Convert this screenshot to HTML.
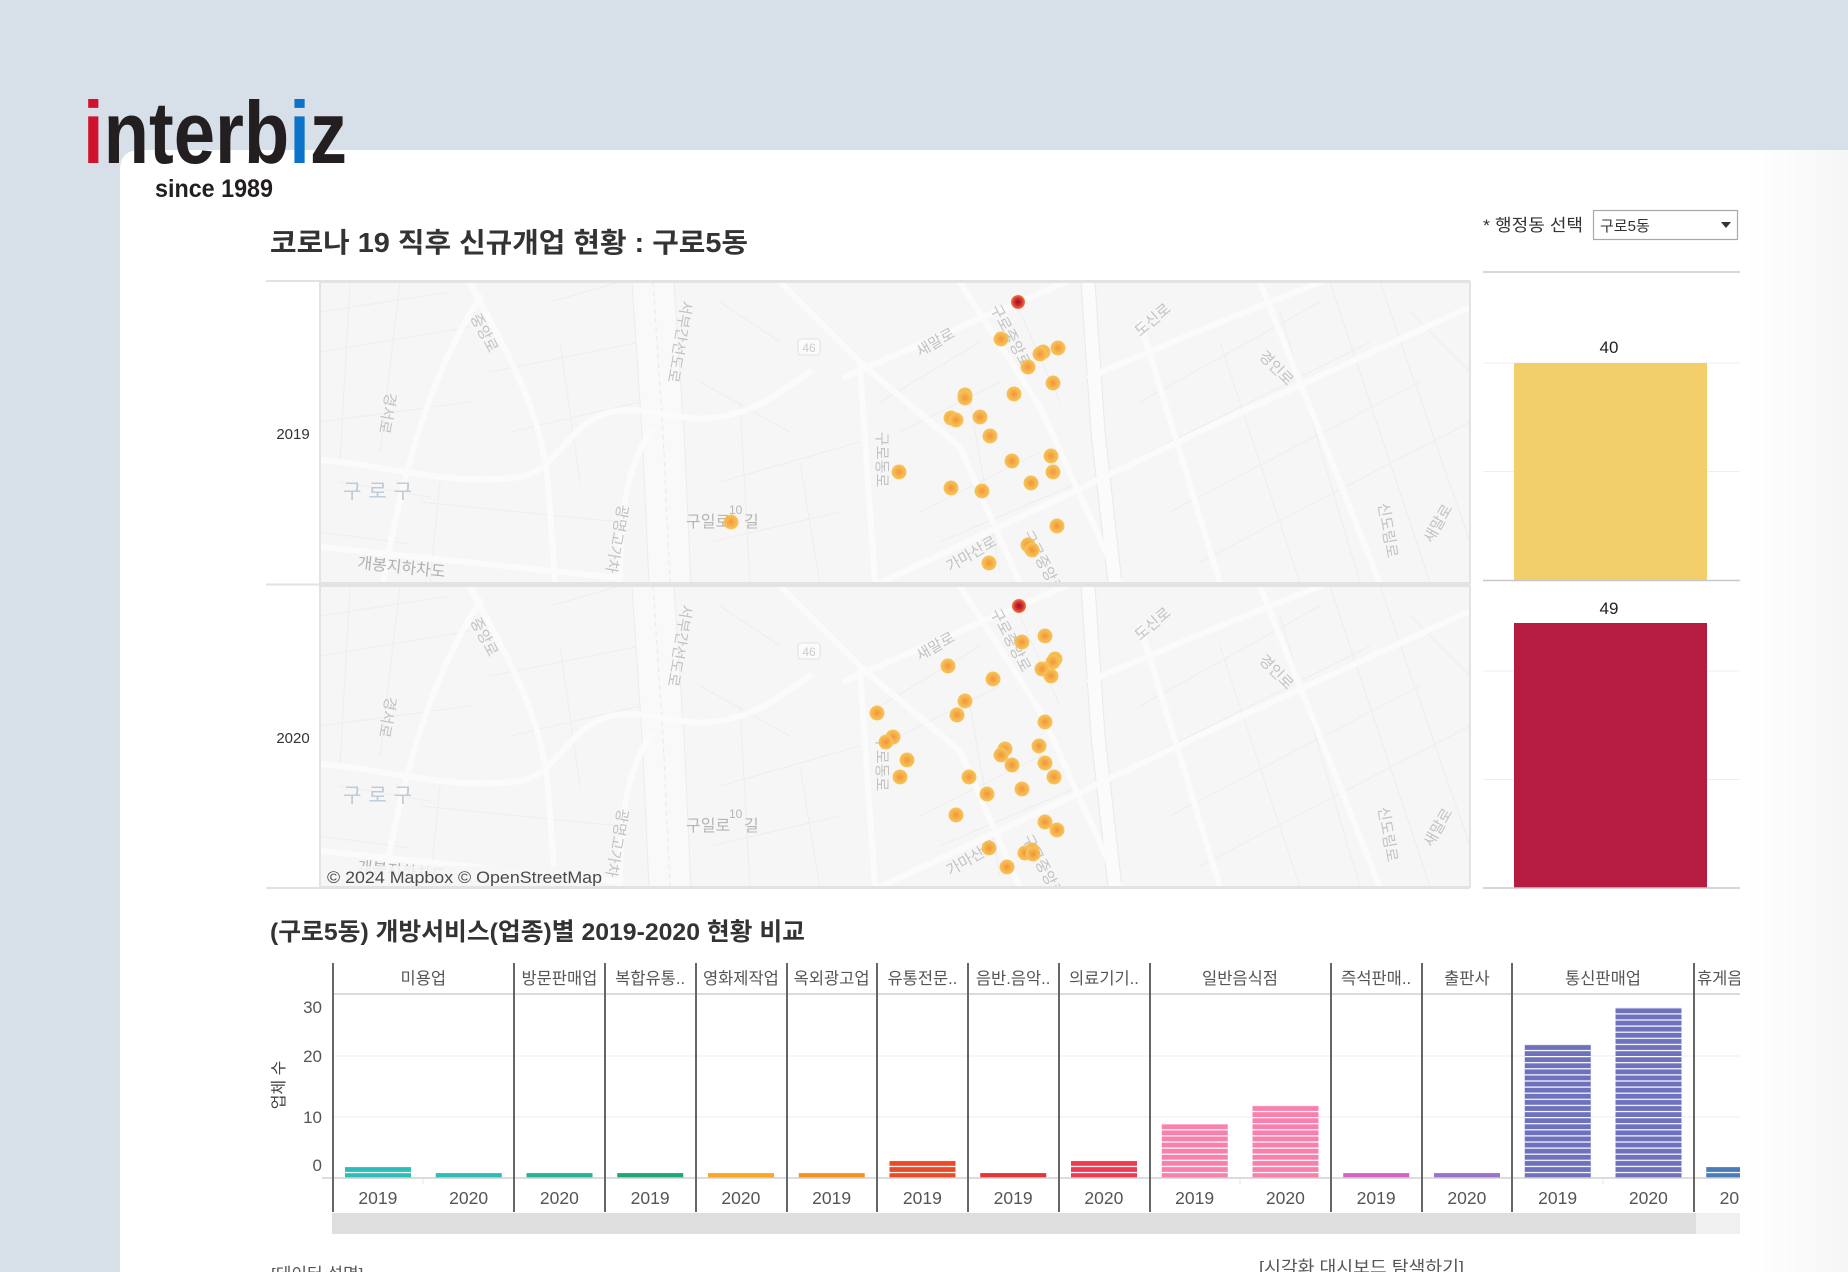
<!DOCTYPE html>
<html><head><meta charset="utf-8">
<style>
html,body{margin:0;padding:0;width:1848px;height:1272px;overflow:hidden;background:#d7dfe8;}
svg{position:absolute;left:0;top:0;font-family:"Liberation Sans","Noto Sans CJK KR",sans-serif;}
.ml{font-size:15px;fill:#c2c2c2;}
.th{stroke:#eeeeee;stroke-width:1.1;fill:none;}
.mj{stroke:#fbfbfb;stroke-width:6;fill:none;stroke-linecap:round;}
.hd{font-size:16.5px;fill:#555;text-anchor:middle;}
.yr{font-size:17.5px;fill:#555;text-anchor:middle;}
.yt{font-size:17px;fill:#555;text-anchor:end;}
</style></head>
<body>
<svg width="1848" height="1272" viewBox="0 0 1848 1272">
<defs>
<radialGradient id="gd"><stop offset="0" stop-color="#f48b2b"/><stop offset="0.5" stop-color="#f5aa3b"/><stop offset="1" stop-color="#f7c24f"/></radialGradient>
<radialGradient id="gr"><stop offset="0" stop-color="#9a0c2b"/><stop offset="0.55" stop-color="#d3302f"/><stop offset="1" stop-color="#ee7b3b"/></radialGradient>
<clipPath id="mc"><rect x="0" y="0" width="1150" height="301"/></clipPath>
<clipPath id="cc"><rect x="250" y="950" width="1490" height="300"/></clipPath>
<pattern id="st" x="0" y="1178" width="10" height="6.1" patternUnits="userSpaceOnUse"><rect x="0" y="0" width="10" height="1.2" fill="#fff"/></pattern>
<linearGradient id="rg" x1="0" x2="1" y1="0" y2="0"><stop offset="0" stop-color="#fff"/><stop offset="1" stop-color="#f6f6f6"/></linearGradient>
</defs>

<!-- background + panel -->
<rect x="0" y="0" width="1848" height="1272" fill="#d7dfe8"/>
<path d="M120,170 Q120,150 140,150 L1848,150 L1848,1272 L120,1272 Z" fill="#ffffff"/>
<rect x="1745" y="150" width="103" height="1122" fill="url(#rg)"/>

<!-- logo -->
<text x="83" y="163" font-size="88" font-weight="bold" textLength="264" lengthAdjust="spacingAndGlyphs" fill="#231f20"><tspan fill="#d0122d">i</tspan>nterb<tspan fill="#0b73c9">i</tspan>z</text>
<text x="155" y="197" font-size="25" font-weight="bold" textLength="118" lengthAdjust="spacingAndGlyphs" fill="#231f20">since 1989</text>

<!-- title -->
<text x="270" y="252" font-size="27.5" font-weight="bold" fill="#333" textLength="478" lengthAdjust="spacingAndGlyphs">코로나 19 직후 신규개업 현황 : 구로5동</text>

<!-- dropdown -->
<text x="1483" y="231" font-size="17" fill="#333" textLength="100" lengthAdjust="spacingAndGlyphs">* 행정동 선택</text>
<rect x="1593.5" y="210.5" width="144" height="29" fill="#fff" stroke="#a9a9a9" stroke-width="1.2"/>
<text x="1600" y="231" font-size="15" fill="#333">구로5동</text>
<polygon points="1721,222 1731,222 1726,228" fill="#333"/>
<line x1="1483" y1="272" x2="1740" y2="272" stroke="#cccccc" stroke-width="1.5"/>

<!-- map section lines -->
<line x1="266" y1="281" x2="1470" y2="281" stroke="#e2e2e2" stroke-width="2"/>
<line x1="266" y1="584.5" x2="1470" y2="584.5" stroke="#e2e2e2" stroke-width="2"/>
<line x1="266" y1="888" x2="1470" y2="888" stroke="#e2e2e2" stroke-width="2"/>
<text x="293" y="439" font-size="15" fill="#333" text-anchor="middle">2019</text>
<text x="293" y="743" font-size="15" fill="#333" text-anchor="middle">2020</text>

<!-- MAP 2019 -->
<g transform="translate(320,282)">
<g clip-path="url(#mc)">
<rect x="0" y="0" width="1150" height="301" fill="#f6f6f6"/>
<path class="th" d="M0,30 L130,10 M0,70 L150,45 M30,0 L20,180 M80,0 L60,170 M0,140 L150,120 M170,90 L320,60 M190,150 L320,120 M230,20 L300,0 M240,60 L260,200 M100,220 L300,240 M120,200 L110,301 M400,20 L460,60 M380,100 L470,150 M400,200 L540,160 M390,260 L520,230 M420,120 L430,301 M480,180 L500,301 M560,120 L660,60 M580,150 L680,100 M600,230 L720,170 M620,260 L760,200 M650,120 L680,290 M700,30 L740,120 M820,120 L1000,20 M830,170 L1050,60 M850,230 L1100,100 M880,280 L1150,140 M900,60 L980,301 M960,30 L1040,301 M1010,0 L1110,301 M1060,0 L1150,260 M1090,30 L1150,90 M0,250 L90,262 M20,200 L110,215"/>
<path d="M333,0 L343,150 L350,301" stroke="#f9f9f9" stroke-width="42" fill="none"/>
<path d="M312,0 L322,150 L329,301 M354,0 L364,150 L371,301" stroke="#ececec" stroke-width="1" fill="none"/>
<path d="M333,0 L343,150 L350,301" stroke="#e9e9e9" stroke-width="1" stroke-dasharray="5,4" fill="none"/>
<path d="M768,0 L778,150 L795,301" stroke="#fbfbfb" stroke-width="14" fill="none"/>
<path d="M761,0 L771,150 L788,301 M775,0 L785,150 L802,301" stroke="#e9e9e9" stroke-width="1" fill="none"/>
<path class="mj" d="M0,178 C60,182 130,205 200,195 C235,190 250,140 290,130 C330,122 360,142 400,135 C440,128 460,110 490,90 M460,0 L545,85 L640,165 L700,301 M640,0 L720,125 L800,301 M525,95 L640,45 L770,-10 M560,301 L700,235 L900,140 L1150,25 M770,95 L900,40 L1000,0 M540,85 L548,200 L555,301 M160,15 C120,80 90,150 63,301 M150,0 C180,60 220,120 228,200 L235,301 M820,40 L900,301 M940,0 L1060,301 M300,301 C300,220 310,180 330,150 M0,265 L300,296"/>
<text class="ml" x="23" y="216" style="font-size:20px;fill:#bcc9d6;letter-spacing:7px">구로구</text>
<text class="ml" transform="translate(37,286) rotate(6)" style="font-size:16px;fill:#b0b0b0">개봉지하차도</text>
<text class="ml" x="366" y="245" style="font-size:16px;fill:#b5b5b5">구일로</text>
<text class="ml" x="409" y="232" style="font-size:12px;fill:#b5b5b5">10</text>
<text class="ml" x="424" y="245" style="font-size:16px;fill:#b5b5b5">길</text>
<text class="ml" transform="translate(66,110) rotate(100)">경서로</text>
<text class="ml" transform="translate(150,35) rotate(62)">중앙로</text>
<text class="ml" transform="translate(362,18) rotate(100)">서부간선도로</text>
<text class="ml" transform="translate(298,222) rotate(100)">광명고가차</text>
<rect x="478" y="57" width="22" height="16" rx="3" fill="#fbfbfb" stroke="#e0e0e0"/>
<text x="489" y="70" font-size="12" fill="#cccccc" text-anchor="middle">46</text>
<text class="ml" transform="translate(600,75) rotate(-30)">새말로</text>
<text class="ml" transform="translate(670,26) rotate(62)">구로중앙로</text>
<text class="ml" transform="translate(820,55) rotate(-40)">도신로</text>
<text class="ml" transform="translate(557,150) rotate(90)">구로동로</text>
<text class="ml" transform="translate(630,290) rotate(-30)">가마산로</text>
<text class="ml" transform="translate(702,252) rotate(62)">구로중앙로</text>
<text class="ml" transform="translate(938,75) rotate(45)">경인로</text>
<text class="ml" transform="translate(1058,222) rotate(80)">신도림로</text>
<text class="ml" transform="translate(1112,262) rotate(-60)">새말로</text>
<g fill="url(#gd)" opacity="0.92">
<circle cx="681" cy="57" r="7.5"/><circle cx="723" cy="70" r="7.5"/><circle cx="720" cy="72" r="7.5"/><circle cx="738" cy="66" r="7.5"/><circle cx="708" cy="85" r="7.5"/><circle cx="733" cy="101" r="7.5"/><circle cx="645" cy="113" r="7.5"/><circle cx="645" cy="116" r="7.5"/><circle cx="694" cy="112" r="7.5"/><circle cx="631" cy="136" r="7.5"/><circle cx="636" cy="138" r="7.5"/><circle cx="660" cy="135" r="7.5"/><circle cx="670" cy="154" r="7.5"/><circle cx="692" cy="179" r="7.5"/><circle cx="731" cy="174" r="7.5"/><circle cx="733" cy="190" r="7.5"/><circle cx="579" cy="190" r="7.5"/><circle cx="631" cy="206" r="7.5"/><circle cx="662" cy="209" r="7.5"/><circle cx="711" cy="201" r="7.5"/><circle cx="737" cy="244" r="7.5"/><circle cx="708" cy="263" r="7.5"/><circle cx="712" cy="268" r="7.5"/><circle cx="669" cy="281" r="7.5"/><circle cx="411" cy="240" r="7.5"/>
</g>
<circle cx="698" cy="20" r="7" fill="url(#gr)"/>
</g>
<rect x="0" y="0" width="1150" height="301" fill="none" stroke="#e3e3e3" stroke-width="2"/>
</g>

<!-- MAP 2020 -->
<g transform="translate(320,586)">
<g clip-path="url(#mc)">
<rect x="0" y="0" width="1150" height="301" fill="#f6f6f6"/>
<path class="th" d="M0,30 L130,10 M0,70 L150,45 M30,0 L20,180 M80,0 L60,170 M0,140 L150,120 M170,90 L320,60 M190,150 L320,120 M230,20 L300,0 M240,60 L260,200 M100,220 L300,240 M120,200 L110,301 M400,20 L460,60 M380,100 L470,150 M400,200 L540,160 M390,260 L520,230 M420,120 L430,301 M480,180 L500,301 M560,120 L660,60 M580,150 L680,100 M600,230 L720,170 M620,260 L760,200 M650,120 L680,290 M700,30 L740,120 M820,120 L1000,20 M830,170 L1050,60 M850,230 L1100,100 M880,280 L1150,140 M900,60 L980,301 M960,30 L1040,301 M1010,0 L1110,301 M1060,0 L1150,260 M1090,30 L1150,90 M0,250 L90,262 M20,200 L110,215"/>
<path d="M333,0 L343,150 L350,301" stroke="#f9f9f9" stroke-width="42" fill="none"/>
<path d="M312,0 L322,150 L329,301 M354,0 L364,150 L371,301" stroke="#ececec" stroke-width="1" fill="none"/>
<path d="M333,0 L343,150 L350,301" stroke="#e9e9e9" stroke-width="1" stroke-dasharray="5,4" fill="none"/>
<path d="M768,0 L778,150 L795,301" stroke="#fbfbfb" stroke-width="14" fill="none"/>
<path d="M761,0 L771,150 L788,301 M775,0 L785,150 L802,301" stroke="#e9e9e9" stroke-width="1" fill="none"/>
<path class="mj" d="M0,178 C60,182 130,205 200,195 C235,190 250,140 290,130 C330,122 360,142 400,135 C440,128 460,110 490,90 M460,0 L545,85 L640,165 L700,301 M640,0 L720,125 L800,301 M525,95 L640,45 L770,-10 M560,301 L700,235 L900,140 L1150,25 M770,95 L900,40 L1000,0 M540,85 L548,200 L555,301 M160,15 C120,80 90,150 63,301 M150,0 C180,60 220,120 228,200 L235,301 M820,40 L900,301 M940,0 L1060,301 M300,301 C300,220 310,180 330,150 M0,265 L300,296"/>
<text class="ml" x="23" y="216" style="font-size:20px;fill:#bcc9d6;letter-spacing:7px">구로구</text>
<text class="ml" transform="translate(37,286) rotate(6)" style="font-size:16px;fill:#b0b0b0">개봉지하차도</text>
<text class="ml" x="366" y="245" style="font-size:16px;fill:#b5b5b5">구일로</text>
<text class="ml" x="409" y="232" style="font-size:12px;fill:#b5b5b5">10</text>
<text class="ml" x="424" y="245" style="font-size:16px;fill:#b5b5b5">길</text>
<text class="ml" transform="translate(66,110) rotate(100)">경서로</text>
<text class="ml" transform="translate(150,35) rotate(62)">중앙로</text>
<text class="ml" transform="translate(362,18) rotate(100)">서부간선도로</text>
<text class="ml" transform="translate(298,222) rotate(100)">광명고가차</text>
<rect x="478" y="57" width="22" height="16" rx="3" fill="#fbfbfb" stroke="#e0e0e0"/>
<text x="489" y="70" font-size="12" fill="#cccccc" text-anchor="middle">46</text>
<text class="ml" transform="translate(600,75) rotate(-30)">새말로</text>
<text class="ml" transform="translate(670,26) rotate(62)">구로중앙로</text>
<text class="ml" transform="translate(820,55) rotate(-40)">도신로</text>
<text class="ml" transform="translate(557,150) rotate(90)">구로동로</text>
<text class="ml" transform="translate(630,290) rotate(-30)">가마산로</text>
<text class="ml" transform="translate(702,252) rotate(62)">구로중앙로</text>
<text class="ml" transform="translate(938,75) rotate(45)">경인로</text>
<text class="ml" transform="translate(1058,222) rotate(80)">신도림로</text>
<text class="ml" transform="translate(1112,262) rotate(-60)">새말로</text>
<rect x="2" y="280" width="280" height="21" fill="#f6f6f6" opacity="0.85"/>
<text x="7" y="297" font-size="17" fill="#4a4a4a" textLength="275" lengthAdjust="spacingAndGlyphs">© 2024 Mapbox  © OpenStreetMap</text>
<g fill="url(#gd)" opacity="0.92">
<circle cx="702" cy="56" r="7.5"/><circle cx="725" cy="50" r="7.5"/><circle cx="735" cy="73" r="7.5"/><circle cx="733" cy="76" r="7.5"/><circle cx="722" cy="83" r="7.5"/><circle cx="731" cy="90" r="7.5"/><circle cx="628" cy="80" r="7.5"/><circle cx="673" cy="93" r="7.5"/><circle cx="645" cy="115" r="7.5"/><circle cx="637" cy="129" r="7.5"/><circle cx="557" cy="127" r="7.5"/><circle cx="573" cy="151" r="7.5"/><circle cx="566" cy="156" r="7.5"/><circle cx="587" cy="174" r="7.5"/><circle cx="580" cy="191" r="7.5"/><circle cx="725" cy="136" r="7.5"/><circle cx="685" cy="163" r="7.5"/><circle cx="681" cy="169" r="7.5"/><circle cx="692" cy="179" r="7.5"/><circle cx="719" cy="160" r="7.5"/><circle cx="725" cy="177" r="7.5"/><circle cx="734" cy="191" r="7.5"/><circle cx="649" cy="191" r="7.5"/><circle cx="667" cy="208" r="7.5"/><circle cx="702" cy="203" r="7.5"/><circle cx="636" cy="229" r="7.5"/><circle cx="725" cy="236" r="7.5"/><circle cx="737" cy="244" r="7.5"/><circle cx="669" cy="262" r="7.5"/><circle cx="712" cy="264" r="7.5"/><circle cx="705" cy="267" r="7.5"/><circle cx="713" cy="268" r="7.5"/><circle cx="687" cy="281" r="7.5"/>
</g>
<circle cx="699" cy="20" r="7" fill="url(#gr)"/>
</g>
<rect x="0" y="0" width="1150" height="301" fill="none" stroke="#e3e3e3" stroke-width="2"/>
</g>

<!-- right bar panel -->
<line x1="1483" y1="363" x2="1740" y2="363" stroke="#efefef" stroke-width="1"/>
<line x1="1483" y1="471.5" x2="1740" y2="471.5" stroke="#efefef" stroke-width="1"/>
<line x1="1483" y1="671" x2="1740" y2="671" stroke="#efefef" stroke-width="1"/>
<line x1="1483" y1="779.5" x2="1740" y2="779.5" stroke="#efefef" stroke-width="1"/>
<rect x="1514" y="363" width="193" height="217" fill="#f2cf6a"/>
<rect x="1514" y="623" width="193" height="265" fill="#b51c3f"/>
<line x1="1483" y1="580.5" x2="1740" y2="580.5" stroke="#c8c8c8" stroke-width="1.5"/>
<line x1="1483" y1="888" x2="1740" y2="888" stroke="#c8c8c8" stroke-width="1.5"/>
<text x="1609" y="353" font-size="17" fill="#222" text-anchor="middle">40</text>
<text x="1609" y="614" font-size="17" fill="#222" text-anchor="middle">49</text>

<!-- second title -->
<text x="270" y="940" font-size="24.5" font-weight="bold" fill="#333" textLength="535" lengthAdjust="spacingAndGlyphs">(구로5동) 개방서비스(업종)별 2019-2020 현황 비교</text>

<!-- bottom chart -->
<text transform="translate(284,1085) rotate(-90)" font-size="16" fill="#444" text-anchor="middle">업체 수</text>
<text class="yt" x="322" y="1013">30</text>
<text class="yt" x="322" y="1062">20</text>
<text class="yt" x="322" y="1123">10</text>
<text class="yt" x="322" y="1171">0</text>

<g clip-path="url(#cc)">
<line x1="333" y1="1056" x2="1740" y2="1056" stroke="#eeeeee" stroke-width="1"/>
<line x1="333" y1="1117" x2="1740" y2="1117" stroke="#eeeeee" stroke-width="1"/>
<line x1="333" y1="994" x2="1740" y2="994" stroke="#cfcfcf" stroke-width="1.5"/>

<!-- bars -->
<rect x="345" y="1167" width="66" height="11" fill="#2dbdb6"/>
<rect x="435.75" y="1173.1" width="66" height="4.9" fill="#2dbdb6"/>
<rect x="526.5" y="1173.1" width="66" height="4.9" fill="#26b39b"/>
<rect x="617.25" y="1173.1" width="66" height="4.9" fill="#1ea57c"/>
<rect x="708" y="1173.1" width="66" height="4.9" fill="#f8a826"/>
<rect x="798.75" y="1173.1" width="66" height="4.9" fill="#f7921e"/>
<rect x="889.5" y="1160.9" width="66" height="17.1" fill="#e84b28"/>
<rect x="980.25" y="1173.1" width="66" height="4.9" fill="#e33535"/>
<rect x="1071" y="1160.9" width="66" height="17.1" fill="#ec3b54"/>
<rect x="1161.75" y="1124.3" width="66" height="53.7" fill="#f880ad"/>
<rect x="1252.5" y="1105.9" width="66" height="72.1" fill="#f880ad"/>
<rect x="1343.25" y="1173.1" width="66" height="4.9" fill="#d164c0"/>
<rect x="1434" y="1173.1" width="66" height="4.9" fill="#9b72c9"/>
<rect x="1524.75" y="1044" width="66" height="134" fill="#6e72be"/>
<rect x="1615.5" y="1007.4" width="66" height="170.6" fill="#6e72be"/>
<rect x="1706.25" y="1167" width="66" height="11" fill="#4b7bba"/>
<!-- stripe overlays -->
<rect x="345" y="1160" width="66" height="18" fill="url(#st)"/>
<rect x="889.5" y="1155" width="66" height="23" fill="url(#st)"/>
<rect x="1071" y="1155" width="66" height="23" fill="url(#st)"/>
<rect x="1161.75" y="1124.3" width="66" height="53.7" fill="url(#st)"/>
<rect x="1252.5" y="1105.9" width="66" height="72.1" fill="url(#st)"/>
<rect x="1524.75" y="1044" width="66" height="134" fill="url(#st)"/>
<rect x="1615.5" y="1007.4" width="66" height="170.6" fill="url(#st)"/>
<rect x="1706.25" y="1160" width="66" height="18" fill="url(#st)"/>

<line x1="322" y1="1178" x2="1740" y2="1178" stroke="#d0d0d0" stroke-width="1.5"/>
<line x1="423" y1="1178" x2="423" y2="1184" stroke="#e6e6e6" stroke-width="1"/>
<line x1="1240" y1="1178" x2="1240" y2="1184" stroke="#e6e6e6" stroke-width="1"/>
<line x1="1603" y1="1178" x2="1603" y2="1184" stroke="#e6e6e6" stroke-width="1"/>

<!-- dividers -->
<g stroke="#666" stroke-width="2">
<line x1="333" y1="963" x2="333" y2="1212"/>
<line x1="514" y1="963" x2="514" y2="1212"/>
<line x1="605" y1="963" x2="605" y2="1212"/>
<line x1="696" y1="963" x2="696" y2="1212"/>
<line x1="787" y1="963" x2="787" y2="1212"/>
<line x1="877" y1="963" x2="877" y2="1212"/>
<line x1="968" y1="963" x2="968" y2="1212"/>
<line x1="1059" y1="963" x2="1059" y2="1212"/>
<line x1="1150" y1="963" x2="1150" y2="1212"/>
<line x1="1331" y1="963" x2="1331" y2="1212"/>
<line x1="1422" y1="963" x2="1422" y2="1212"/>
<line x1="1512" y1="963" x2="1512" y2="1212"/>
<line x1="1694" y1="963" x2="1694" y2="1212"/>
</g>

<!-- headers -->
<text class="hd" x="423.3" y="984">미용업</text>
<text class="hd" x="559.4" y="984">방문판매업</text>
<text class="hd" x="650.1" y="984">복합유통..</text>
<text class="hd" x="740.9" y="984">영화제작업</text>
<text class="hd" x="831.6" y="984">옥외광고업</text>
<text class="hd" x="922.4" y="984">유통전문..</text>
<text class="hd" x="1013.1" y="984">음반.음악..</text>
<text class="hd" x="1103.9" y="984">의료기기..</text>
<text class="hd" x="1240" y="984">일반음식점</text>
<text class="hd" x="1376.1" y="984">즉석판매..</text>
<text class="hd" x="1466.9" y="984">출판사</text>
<text class="hd" x="1603" y="984">통신판매업</text>
<text x="1697" y="984" font-size="16.5" fill="#555">휴게음식점</text>

<!-- year labels -->
<text class="yr" x="377.9" y="1204">2019</text>
<text class="yr" x="468.6" y="1204">2020</text>
<text class="yr" x="559.4" y="1204">2020</text>
<text class="yr" x="650.1" y="1204">2019</text>
<text class="yr" x="740.9" y="1204">2020</text>
<text class="yr" x="831.6" y="1204">2019</text>
<text class="yr" x="922.4" y="1204">2019</text>
<text class="yr" x="1013.1" y="1204">2019</text>
<text class="yr" x="1103.9" y="1204">2020</text>
<text class="yr" x="1194.6" y="1204">2019</text>
<text class="yr" x="1285.4" y="1204">2020</text>
<text class="yr" x="1376.1" y="1204">2019</text>
<text class="yr" x="1466.9" y="1204">2020</text>
<text class="yr" x="1557.6" y="1204">2019</text>
<text class="yr" x="1648.4" y="1204">2020</text>
<text class="yr" x="1739.1" y="1204">2020</text>

<!-- scrollbar -->
<rect x="332" y="1213" width="1364" height="21" fill="#dedede"/>
<rect x="1696" y="1213" width="44" height="21" fill="#f0f0f0"/>
</g>

<!-- footer texts -->
<text x="271" y="1280" font-size="17" fill="#555">[데이터 설명]</text>
<text x="1259" y="1273" font-size="17" fill="#555" textLength="205" lengthAdjust="spacingAndGlyphs">[시각화 대시보드 탐색하기]</text>
</svg>
</body></html>
